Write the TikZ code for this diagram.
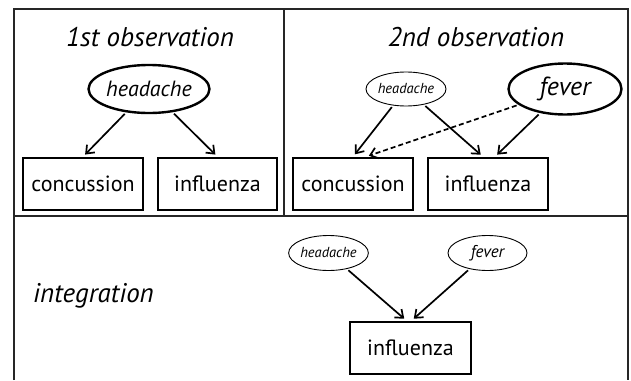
\documentclass[tikz,border=0pt]{standalone}
\usepackage{fontspec}
\setmainfont{PT Sans}
\usetikzlibrary{arrows.meta,shapes.geometric}
\tikzset{
  frame/.style={line width=1.3pt,draw=black!85},
  title/.style={inner sep=0pt,font=\fontsize{27}{30}\selectfont\itshape},
  boxnode/.style={draw,line width=2.6pt,minimum width=120pt,minimum height=52pt,inner sep=0pt,font=\fontsize{22}{25}\selectfont},
  bigell/.style={draw,ellipse,line width=2.4pt,inner sep=0pt,font=\fontsize{22}{25}\selectfont\itshape},
  smallell/.style={draw,ellipse,line width=0.9pt,inner sep=0pt,font=\fontsize{14.5}{16}\selectfont\itshape},
  arr/.style={line width=1.7pt,-{Straight Barb[length=7pt,width=11pt,line width=1.7pt]},shorten <=2pt,shorten >=3pt},
}
\begin{document}
\begin{tikzpicture}[x=1pt,y=-1pt]
\useasboundingbox (0,0) rectangle (631,380);
% frame
\draw[frame] (14,380) -- (14,9) -- (628,9) -- (628,380);
\draw[frame] (14,216) -- (628,216);
\draw[frame] (284,9) -- (284,216);
% 1st observation
\node[title] (t1) at (150,37) {1st observation};
\node[bigell,minimum width=112pt,minimum height=48pt] (h1) at (149,89) {headache};
\node[boxnode] (c1) at (83,184) {concussion};
\node[boxnode,minimum width=119pt] (i1) at (217.5,184) {influenza};
\draw[arr] (h1) -- (c1.north);
\draw[arr] (h1) -- (i1.north);
% 2nd observation
\node[title] (t2) at (476,37) {2nd observation};
\node[smallell,minimum width=80pt,minimum height=34pt] (h2) at (406,89) {headache};
\node[bigell,minimum width=113pt,minimum height=51pt,font=\fontsize{26}{28}\selectfont\itshape] (f2) at (565,89) {fever};
\node[boxnode] (c2) at (353,184) {concussion};
\node[boxnode] (i2) at (488,184) {influenza};
\coordinate (i2a) at ([xshift=-5pt]i2.north);
\coordinate (i2b) at ([xshift=7pt]i2.north);
\coordinate (c2a) at ([xshift=13pt]c2.north);
\draw[arr] (h2) -- (c2.north);
\draw[arr] (h2) -- (i2a);
\draw[arr] (f2) -- (i2b);
\draw[arr,dash pattern=on 5pt off 3pt] (f2) -- (c2a);
% integration
\node[title,anchor=base west] (t3) at (33,302) {integration};
\node[smallell,minimum width=79pt,minimum height=35pt] (h3) at (328.5,253) {headache};
\node[smallell,minimum width=79pt,minimum height=35pt,font=\fontsize{17}{19}\selectfont\itshape] (f3) at (487.5,253) {fever};
\node[boxnode,minimum width=121pt] (i3) at (410.5,348) {influenza};
\coordinate (i3a) at ([xshift=-4pt]i3.north);
\coordinate (i3b) at ([xshift=1pt]i3.north);
\draw[arr] (h3) -- (i3a);
\draw[arr] (f3) -- (i3b);
\end{tikzpicture}
\end{document}
